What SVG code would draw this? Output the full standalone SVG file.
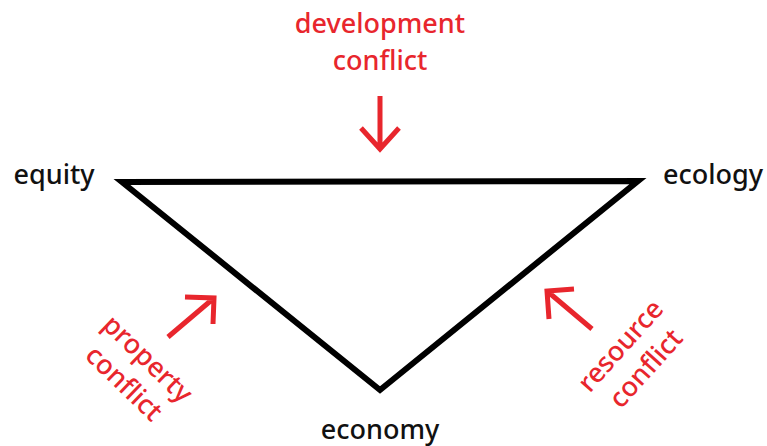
<svg xmlns="http://www.w3.org/2000/svg" width="767" height="446" viewBox="0 0 767 446">
<style>
.lbl{font-family:"Noto Sans","DejaVu Sans",sans-serif;font-size:27px;font-weight:500;fill:#111;text-anchor:middle}
.red{font-family:"Noto Sans","DejaVu Sans",sans-serif;font-size:27px;font-weight:500;fill:#e8262d;text-anchor:middle}
.arr{fill:none;stroke:#e8262d;stroke-width:5;stroke-linecap:butt;stroke-linejoin:miter}
.edge{fill:none;stroke:#000;stroke-width:6;stroke-linejoin:miter}
</style>
<rect width="767" height="446" fill="#fff"/>
<g id="connectors">
<path class="edge" d="M122,182 L638,181 L380,390 Z"/>
</g>
<g id="equity"><text class="lbl" x="54" y="184">equity</text></g>
<g id="ecology"><text class="lbl" x="713" y="184">ecology</text></g>
<g id="economy"><text class="lbl" x="380" y="439">economy</text></g>
<g id="development-conflict">
<text class="red" x="380" y="33">development</text>
<text class="red" x="380" y="70">conflict</text>
<path class="arr" d="M380,96 L380,149 M361,128 L380,149 L399,128"/>
</g>
<g id="property-conflict">
<g transform="translate(136.5,370.5) rotate(44)">
<text class="red" x="0" y="-7">property</text>
<text class="red" x="0" y="27">conflict</text>
</g>
<path class="arr" d="M168,337 L214,298 M185,297 L214,298 L213,324"/>
</g>
<g id="resource-conflict">
<g transform="translate(632.5,356.5) rotate(-48)">
<text class="red" x="0" y="-7">resource</text>
<text class="red" x="0" y="27">conflict</text>
</g>
<path class="arr" d="M592,329 L547,291 M574,289 L547,291 L549,319"/>
</g>
</svg>
